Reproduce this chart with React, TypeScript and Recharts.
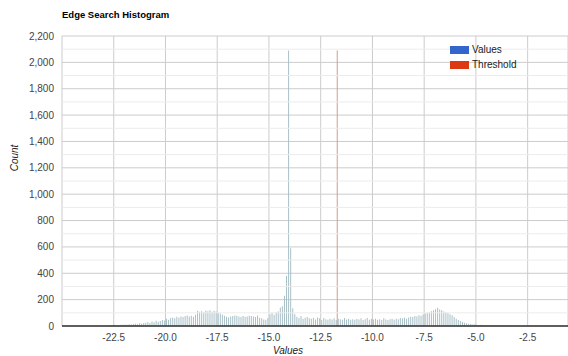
import React from "react";
import {
  ComposedChart,
  Bar,
  XAxis,
  YAxis,
  CartesianGrid,
  ReferenceLine,
} from "recharts";

// Histogram bins: centers start at -22.95, width 0.1
const BIN_START = -22.95;
const BIN_STEP = 0.1;
const counts: number[] = [
  0, 0, 5, 8, 6, 10, 8, 7, 10, 9,
  12, 10, 14, 12, 15, 18, 14, 20, 17, 22,
  25, 30, 22, 35, 28, 40, 32, 38, 45, 42,
  55, 48, 60, 65, 58, 70, 62, 72, 68, 75,
  80, 72, 78, 70, 85, 115, 108, 112, 105, 118,
  112, 120, 108, 115, 110, 100, 95, 85, 78, 70,
  65, 72, 75, 80, 78, 72, 68, 75, 70, 73,
  78, 75, 72, 68, 80, 62, 58, 50, 48, 60,
  90, 100, 85, 105, 110, 140, 150, 230, 380, 2090,
  590, 135, 90, 70, 60, 75, 55, 62, 68, 58,
  55, 62, 50, 65, 58, 45, 60, 52, 48, 55,
  50, 58, 45, 55, 52, 48, 60, 50, 55, 47,
  52, 48, 55, 50, 58, 45, 52, 60, 48, 55,
  50, 55, 48, 52, 45, 58, 50, 46, 52, 55,
  48, 55, 52, 60, 58, 62, 55, 65, 70, 68,
  75, 72, 82, 78, 88, 95, 100, 105, 112, 120,
  128, 138, 125, 120, 110, 105, 98, 90, 82, 68,
  55, 45, 38, 30, 25, 20, 18, 15, 12, 14,
  10, 8, 9, 7, 8, 6, 7, 5, 6, 4,
  3, 2, 4, 2, 1, 3, 2, 1, 0, 2,
  1, 0, 2, 1, 0, 1, 0, 0, 1, 0,
  0, 1, 0, 0, 2, 0, 0, 1, 0, 0,
];

const thresholdX = -11.7;
const thresholdHeight = 2090;

const xTicks = [-22.5, -20, -17.5, -15, -12.5, -10, -7.5, -5, -2.5];
const yTicks = [0, 200, 400, 600, 800, 1000, 1200, 1400, 1600, 1800, 2000, 2200];
const yMinor = [100, 300, 500, 700, 900, 1100, 1300, 1500, 1700, 1900, 2100];

const seriesInfo = [
  { name: "Values", color: "#3366cc" },
  { name: "Threshold", color: "#dc3912" },
];

const data = [
  ...counts.map((c, i) => ({
    x: +(BIN_START + i * BIN_STEP).toFixed(2),
    count: c,
    threshold: null as number | null,
  })),
  { x: thresholdX, count: null as number | null, threshold: thresholdHeight },
].sort((a, b) => a.x - b.x);

const FONT = 'Arial, "Liberation Sans", sans-serif';

export default function App() {
  return (
    <div
      style={{
        position: "absolute",
        left: 0,
        top: 0,
        width: 568,
        height: 356,
        background: "#fff",
        overflow: "hidden",
      }}
    >
      <ComposedChart
        width={568}
        height={356}
        data={data}
        margin={{ top: 36, right: 0, bottom: 0, left: 0 }}
        style={{ position: "absolute", left: 0, top: 0 }}
      >
        <CartesianGrid stroke="#cccccc" />
        {yMinor.map((v) => (
          <ReferenceLine key={v} y={v} stroke="#ececec" />
        ))}
        <XAxis
          dataKey="x"
          type="number"
          domain={[-25, -0.55]}
          allowDataOverflow
          ticks={xTicks}
          tickFormatter={(v: number) => v.toFixed(1)}
          tickLine={false}
          axisLine={{ stroke: "#333" }}
          tick={{ fill: "#444", fontSize: 10, fontFamily: FONT }}
          height={30}
        />
        <YAxis
          type="number"
          domain={[0, 2200]}
          ticks={yTicks}
          tickFormatter={(v: number) => v.toLocaleString("en-US")}
          tickLine={false}
          axisLine={false}
          width={62}
          tick={{ fill: "#444", fontSize: 10, fontFamily: FONT }}
        />
        <Bar
          dataKey="count"
          name="Values"
          stackId="h"
          fill="#a9c0c7"
          barSize={1}
          isAnimationActive={false}
        />
        <Bar
          dataKey="threshold"
          name="Threshold"
          stackId="h"
          fill="#d79c86"
          barSize={1}
          isAnimationActive={false}
        />
        <ReferenceLine y={0} stroke="#333" />
      </ComposedChart>
      <div
        style={{
          position: "absolute",
          left: 62,
          top: 9,
          fontFamily: FONT,
          fontWeight: "bold",
          fontSize: 9.5,
          color: "#000",
        }}
      >
        Edge Search Histogram
      </div>
      <div
        style={{
          position: "absolute",
          left: 14,
          top: 158,
          transform: "translate(-50%, -50%) rotate(-90deg)",
          fontFamily: FONT,
          fontStyle: "italic",
          fontSize: 10,
          color: "#222",
          whiteSpace: "nowrap",
        }}
      >
        Count
      </div>
      <div
        style={{
          position: "absolute",
          left: 288,
          top: 350,
          transform: "translate(-50%, -50%)",
          fontFamily: FONT,
          fontStyle: "italic",
          fontSize: 10,
          color: "#222",
          whiteSpace: "nowrap",
        }}
      >
        Values
      </div>
      <div
        style={{
          position: "absolute",
          left: 450,
          top: 42,
          fontFamily: FONT,
          fontSize: 10,
          color: "#222",
        }}
      >
        {seriesInfo.map((s) => (
          <div
            key={s.name}
            style={{ display: "flex", alignItems: "center", height: 15 }}
          >
            <div
              style={{
                width: 19,
                height: 8,
                background: s.color,
                marginRight: 3,
              }}
            />
            <span>{s.name}</span>
          </div>
        ))}
      </div>
    </div>
  );
}
